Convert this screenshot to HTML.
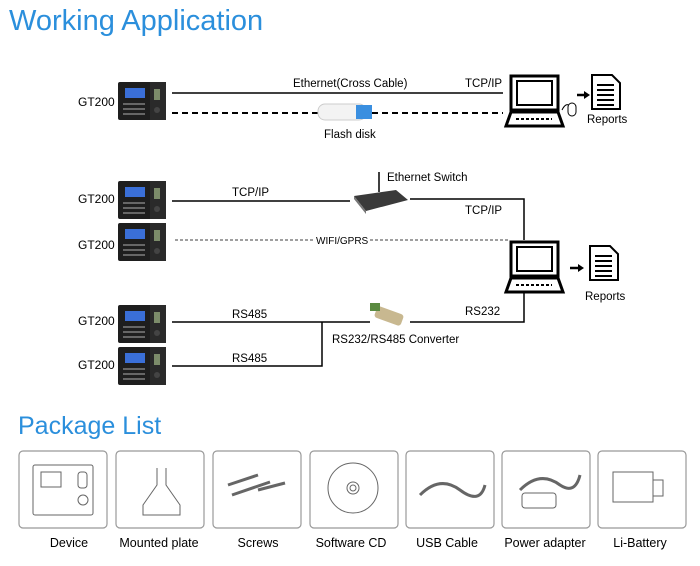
<!DOCTYPE html>
<html><head><meta charset="utf-8"><style>
body{margin:0;background:#fff;width:700px;height:561px;overflow:hidden}
svg text{font-family:"Liberation Sans",sans-serif}
</style></head><body>
<svg width="700" height="561" viewBox="0 0 700 561" xmlns="http://www.w3.org/2000/svg">
<defs>
<g id="dev">
<rect x="0" y="0" width="48" height="38" rx="2" fill="#1e1e1e"/>
<rect x="32" y="0" width="16" height="38" fill="#2a2a2a"/>
<rect x="7" y="6" width="20" height="10" fill="#3a6fd8"/>
<rect x="36" y="7" width="6" height="11" fill="#7c8c6a"/>
<circle cx="39" cy="28" r="3" fill="#444"/>
<g fill="#666"><rect x="5" y="21" width="22" height="2"/><rect x="5" y="26" width="22" height="2"/><rect x="5" y="31" width="22" height="2"/></g>
</g>
<g id="pc">
<rect x="3" y="2" width="47" height="34" fill="#fff" stroke="#000" stroke-width="3"/>
<rect x="9" y="7" width="35" height="24" fill="#fff" stroke="#000" stroke-width="2"/>
<path d="M3 38 L50 38 L55 52 L-2 52 Z" fill="#fff" stroke="#000" stroke-width="3"/>
<line x1="8" y1="45" x2="44" y2="45" stroke="#000" stroke-width="2" stroke-dasharray="3 2"/>
</g>
<g id="doc">
<path d="M0 0 H20 L28 8 V34 H0 Z" fill="#fff" stroke="#000" stroke-width="2"/>
<g stroke="#000" stroke-width="2"><line x1="5" y1="10" x2="22" y2="10"/><line x1="5" y1="15" x2="22" y2="15"/><line x1="5" y1="20" x2="22" y2="20"/><line x1="5" y1="25" x2="22" y2="25"/><line x1="5" y1="30" x2="22" y2="30"/></g>
</g>
</defs>
<text x="9" y="30" font-size="29" fill="#2b8fdc">Working Application</text>
<text x="18" y="434" font-size="25" fill="#2b8fdc">Package List</text>

<g font-size="12" fill="#000">
<text x="78" y="106">GT200</text><text x="78" y="203">GT200</text><text x="78" y="249">GT200</text>
<text x="78" y="325">GT200</text><text x="78" y="369">GT200</text>
</g>
<use href="#dev" x="118" y="82"/><use href="#dev" x="118" y="181"/><use href="#dev" x="118" y="223"/>
<use href="#dev" x="118" y="305"/><use href="#dev" x="118" y="347"/>

<g stroke="#000" fill="none">
<line x1="172" y1="93" x2="503" y2="93" stroke-width="1.5"/>
<line x1="172" y1="113" x2="503" y2="113" stroke-width="2" stroke-dasharray="6 4"/>
<line x1="172" y1="201" x2="350" y2="201" stroke-width="1.5"/>
<polyline points="410,199 524,199 524,240" stroke-width="1.5"/>
<line x1="175" y1="240" x2="510" y2="240" stroke-width="0.8" stroke-dasharray="3 2"/>
<line x1="172" y1="322" x2="370" y2="322" stroke-width="1.5"/>
<polyline points="172,366 322,366 322,322" stroke-width="1.5"/>
<polyline points="410,322 524,322 524,292" stroke-width="1.5"/>
</g>
<rect x="318" y="104" width="48" height="16" rx="7" fill="#f3f3f3" stroke="#ccc"/>
<rect x="356" y="105" width="16" height="14" fill="#3a8fe0"/>
<g font-size="11.5" fill="#000">
<text x="293" y="87">Ethernet(Cross Cable)</text>
<text x="465" y="87">TCP/IP</text>
<text x="324" y="138">Flash disk</text>
<text x="232" y="196">TCP/IP</text>
<text x="387" y="181">Ethernet Switch</text>
<text x="465" y="214">TCP/IP</text>
<text x="232" y="318">RS485</text>
<text x="232" y="362">RS485</text>
<text x="465" y="315">RS232</text>
<text x="332" y="343">RS232/RS485 Converter</text>
<text x="587" y="123">Reports</text>
<text x="585" y="300">Reports</text>
</g>
<rect x="313" y="235" width="55" height="10" fill="#fff"/>
<text x="316" y="244" font-size="10" fill="#000">WIFI/GPRS</text>
<!-- switch -->
<line x1="379" y1="172" x2="379" y2="192" stroke="#000" stroke-width="1.5"/>
<path d="M354 196 L396 190 L408 200 L366 211 Z" fill="#3a3a3a"/>
<path d="M354 196 L366 211 L366 214 L354 199 Z" fill="#777"/>
<!-- converter -->
<rect x="375" y="310" width="28" height="12" rx="3" fill="#c8b890" transform="rotate(20 389 316)"/>
<rect x="370" y="303" width="10" height="8" fill="#5a8a40"/>
<use href="#pc" x="508" y="74"/>
<use href="#pc" x="508" y="240"/>
<path d="M562 110 q4 -8 8 -4" fill="none" stroke="#000"/>
<rect x="568" y="103" width="8" height="13" rx="4" fill="#fff" stroke="#000"/>
<line x1="577" y1="95" x2="584" y2="95" stroke="#000" stroke-width="2.5"/><path d="M584 91 L590 95 L584 99Z"/>
<line x1="570" y1="268" x2="578" y2="268" stroke="#000" stroke-width="2.5"/><path d="M578 264 L584 268 L578 272Z"/>
<use href="#doc" x="592" y="75"/>
<use href="#doc" x="590" y="246"/>

<g fill="#fff" stroke="#999" stroke-width="1.2">
<rect x="19" y="451" width="88" height="77" rx="4"/><rect x="116" y="451" width="88" height="77" rx="4"/>
<rect x="213" y="451" width="88" height="77" rx="4"/><rect x="310" y="451" width="88" height="77" rx="4"/>
<rect x="406" y="451" width="88" height="77" rx="4"/><rect x="502" y="451" width="88" height="77" rx="4"/>
<rect x="598" y="451" width="88" height="77" rx="4"/>
</g>
<g fill="none" stroke="#666">
<rect x="33" y="465" width="60" height="50" rx="2"/><rect x="41" y="472" width="20" height="15"/><rect x="78" y="472" width="9" height="16" rx="3"/><circle cx="83" cy="500" r="5"/>
<path d="M157 468 V485 L143 505 V515 H180 V505 L166 485 V468"/>
<circle cx="353" cy="488" r="25"/><circle cx="353" cy="488" r="6"/><circle cx="353" cy="488" r="3"/>
<path d="M420 495 q20 -20 40 -5 q20 15 25 -5" stroke-width="3"/>
<path d="M520 490 q20 -20 40 -5 q15 10 20 -10" stroke-width="3"/><rect x="522" y="493" width="34" height="15" rx="3"/>
<rect x="613" y="472" width="40" height="30"/><rect x="653" y="480" width="10" height="16"/>
</g>
<g stroke="#666" stroke-width="3"><line x1="228" y1="485" x2="258" y2="475"/><line x1="232" y1="495" x2="270" y2="482"/><line x1="258" y1="490" x2="285" y2="483"/></g>
<g font-size="12.5" fill="#000" text-anchor="middle">
<text x="69" y="547">Device</text><text x="159" y="547">Mounted plate</text><text x="258" y="547">Screws</text>
<text x="351" y="547">Software CD</text><text x="447" y="547">USB Cable</text><text x="545" y="547">Power adapter</text>
<text x="640" y="547">Li-Battery</text>
</g>
</svg>
</body></html>
